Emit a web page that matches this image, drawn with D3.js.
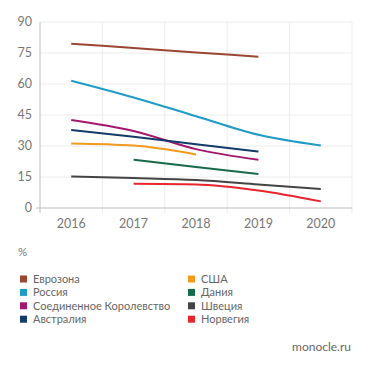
<!DOCTYPE html>
<html>
<head>
<meta charset="utf-8">
<script src="https://cdn.jsdelivr.net/npm/d3@7"></script>
<style>
  body { margin: 0; background: #fff; }
  svg text { font-family: Lato, "Open Sans", sans-serif; }
</style>
</head>
<body>
<svg id="chart" width="371" height="368"></svg>
<script>
// years on the x axis
const years = ["2016", "2017", "2018", "2019", "2020"];
const yTicks = [0, 15, 30, 45, 60, 75, 90];

// series (null = no data that year)
const eurozone  = [79.5, 77.4, 75.3, 73.2, null];
const russia    = [61.6, 53.5, 44.4, 35.4, 30.2];
const uk        = [42.6, 37.3, 28.5, 23.3, null];
const australia = [37.7, 34.5, 30.8, 27.3, null];
const usa       = [31.2, 30.2, 25.9, null, null];
const denmark   = [null, 23.3, 19.8, 16.4, null];
const sweden    = [15.3, 14.5, 13.5, 11.4, 9.2];
const norway    = [null, 11.7, 11.4, 8.5, 3.2];

const seriesNames = ["Еврозона", "Россия", "Соединенное Королевство", "Австралия",
                     "США", "Дания", "Швеция", "Норвегия"];
const seriesColors = ["#9b4631", "#1f9bc7", "#a3186e", "#133a69",
                      "#f29a1c", "#176a4a", "#444444", "#e8242d"];
const seriesValues = [eurozone, russia, uk, australia, usa, denmark, sweden, norway];

const svg = d3.select("#chart");

const x = d3.scaleBand()
    .domain(years)
    .range([40, 352]);

const y = d3.scaleLinear()
    .domain([0, 90])
    .range([208, 22]);

//gridlines
const grid = svg.append("g");

grid.selectAll("line.h")
    .data(yTicks.slice(1))
    .join("line")
    .attr("x1", 40)
    .attr("x2", 352)
    .attr("y1", d => y(d))
    .attr("y2", d => y(d))
    .attr("stroke", "#ececec")
    .attr("stroke-width", 1);

const bounds = years.map(d => x(d)).concat([x.range()[1]]);

grid.selectAll("line.v")
    .data(bounds.slice(1))
    .join("line")
    .attr("x1", d => d)
    .attr("x2", d => d)
    .attr("y1", 22)
    .attr("y2", 213)
    .attr("stroke", "#ececec")
    .attr("stroke-width", 1);

//axes
svg.append("line")
    .attr("x1", 40).attr("x2", 40)
    .attr("y1", 22).attr("y2", 213)
    .attr("stroke", "#bdbdbd");

svg.append("line")
    .attr("x1", 36).attr("x2", 352)
    .attr("y1", y(0)).attr("y2", y(0))
    .attr("stroke", "#bdbdbd");

svg.append("g")
    .selectAll("text")
    .data(yTicks)
    .join("text")
    .attr("x", 32)
    .attr("y", d => y(d))
    .attr("dy", "0.35em")
    .attr("text-anchor", "end")
    .attr("font-size", 12.5)
    .attr("fill", "#777")
    .text(d => d);

svg.append("g")
    .selectAll("text")
    .data(years)
    .join("text")
    .attr("x", d => x(d) + x.bandwidth() / 2)
    .attr("y", 224)
    .attr("dy", "0.35em")
    .attr("text-anchor", "middle")
    .attr("font-size", 12.5)
    .attr("fill", "#777")
    .text(d => d);

//lines
const line = d3.line()
    .defined(d => d.value !== null)
    .x(d => x(d.year) + x.bandwidth() / 2)
    .y(d => y(d.value))
    .curve(d3.curveMonotoneX);

svg.append("g")
    .selectAll("path")
    .data(seriesValues)
    .join("path")
    .attr("d", vals => line(vals.map((v, i) => ({year: years[i], value: v}))))
    .attr("fill", "none")
    .attr("stroke", (d, i) => seriesColors[i])
    .attr("stroke-width", 2);

//unit label
svg.append("text")
    .attr("x", 18)
    .attr("y", 252)
    .attr("dy", "0.35em")
    .attr("font-size", 11.5)
    .attr("fill", "#777")
    .text("%");

//legend
const legend = svg.append("g")
    .selectAll("g")
    .data(seriesNames)
    .join("g")
    .attr("transform", (d, i) => `translate(${i < 4 ? 20 : 188},${279 + (i % 4) * 13.4})`);

legend.append("rect")
    .attr("x", 0)
    .attr("y", -3.5)
    .attr("width", 7)
    .attr("height", 7)
    .attr("fill", (d, i) => seriesColors[i]);

legend.append("text")
    .attr("x", 13)
    .attr("y", 0)
    .attr("dy", "0.35em")
    .attr("font-size", 11)
    .attr("fill", "#666")
    .text(d => d);

svg.append("text")
    .attr("x", 351)
    .attr("y", 347)
    .attr("dy", "0.35em")
    .attr("text-anchor", "end")
    .attr("font-size", 12)
    .attr("fill", "#666")
    .text("monocle.ru");
</script>
</body>
</html>
